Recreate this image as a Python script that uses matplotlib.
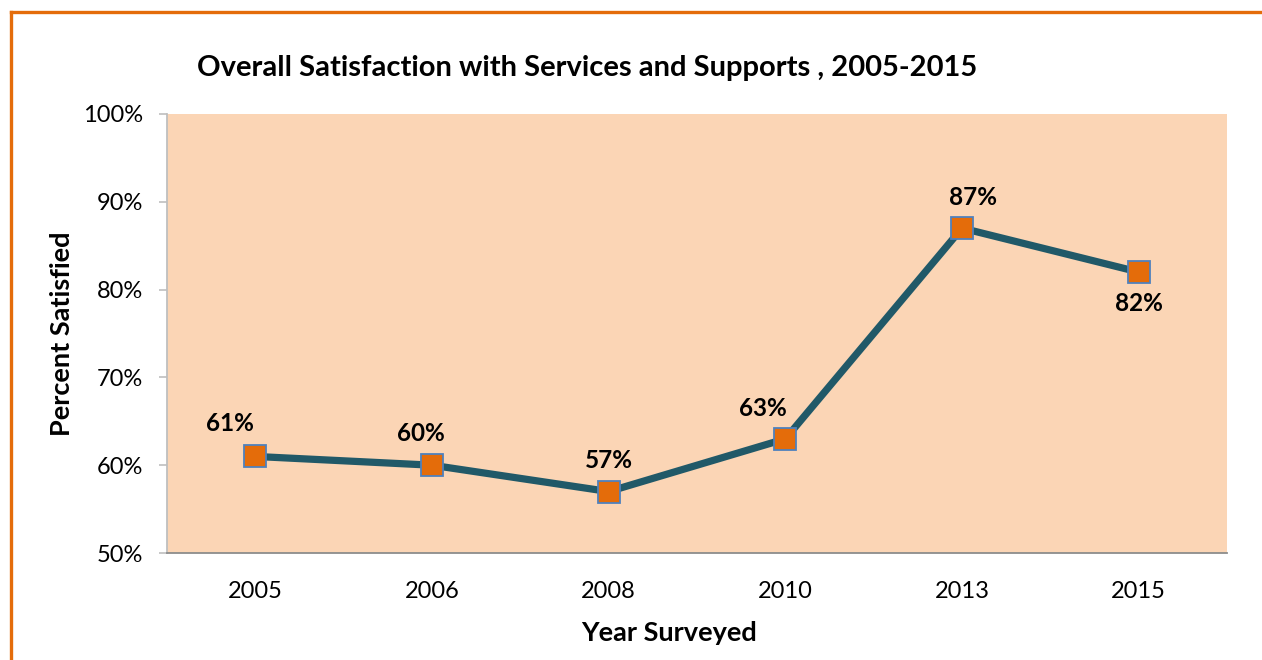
import matplotlib.pyplot as plt
from matplotlib.lines import Line2D

plt.rcParams['font.family'] = ['Lato', 'DejaVu Sans']

years = ['2005', '2006', '2008', '2010', '2013', '2015']
satisfied = [61, 60, 57, 63, 87, 82]
# label offsets in points (dx, dy) relative to each marker
label_offsets = [(-18, 24), (-8, 23), (0, 22), (-16, 22), (8, 22), (0, -23)]

fig = plt.figure(figsize=(12.62, 6.6), dpi=100)
ax = fig.add_axes([0.1323, 0.1621, 0.8400, 0.6652])
ax.set_facecolor('#FBD5B5')

x = range(len(years))
ax.plot(x, satisfied, color='#215968', lw=5.2, zorder=2, solid_capstyle='round')
ax.plot(x, satisfied, ls='none', marker='s', ms=15.5, mfc='#E46C0A',
        mec='#4F81BD', mew=1.3, zorder=3)

for i, v in enumerate(satisfied):
    dx, dy = label_offsets[i]
    ax.annotate(f'{v}%', (i, v), xytext=(dx, dy), textcoords='offset points',
                ha='center', va='center', fontsize=17.5, fontweight='bold')

ax.set_xlim(-0.5, len(years) - 0.5)
ax.set_ylim(50, 100)
ax.set_xticks(list(x))
ax.set_xticklabels(years)
ax.set_yticks(range(50, 101, 10))
ax.set_yticklabels([f'{t}%' for t in range(50, 101, 10)])
ax.tick_params(axis='x', length=0, pad=20, labelsize=17)
ax.tick_params(axis='y', length=6, width=1.2, color='#BFBFBF', pad=11, labelsize=17)

for side in ['top', 'right']:
    ax.spines[side].set_visible(False)
ax.spines['left'].set_color('#BFBFBF')
ax.spines['left'].set_linewidth(1.3)
ax.spines['bottom'].set_color('#8C8C8C')
ax.spines['bottom'].set_linewidth(1.3)

ax.set_xlabel('Year Surveyed', fontsize=19.5, fontweight='bold', labelpad=12)
ax.xaxis.set_label_coords(0.4736, -0.155)
ax.set_ylabel('Percent Satisfied', fontsize=19.5, fontweight='bold', labelpad=7)

fig.text(0.465, 0.897, 'Overall Satisfaction with Services and Supports , 2005-2015',
         ha='center', va='center', fontsize=21, fontweight='bold')

# orange frame around the chart, running off the right and bottom edges
W, H = 1262, 660
fig.add_artist(Line2D([11 / W, 1.0], [1 - 12 / H, 1 - 12 / H],
                      color='#E46C0A', lw=2.4, transform=fig.transFigure))
fig.add_artist(Line2D([11 / W, 11 / W], [0.0, 1 - 12 / H],
                      color='#E46C0A', lw=2.4, transform=fig.transFigure))

fig.savefig('out.png', dpi=100)
